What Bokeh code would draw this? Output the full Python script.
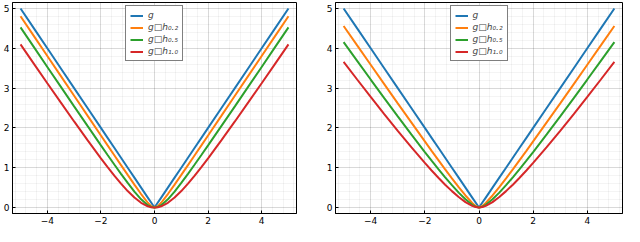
from bokeh.plotting import figure
from bokeh.layouts import row
from bokeh.models import FixedTicker, Range1d, Legend, LegendItem
from bokeh.embed import file_html
from bokeh.resources import INLINE
import numpy as np

# ---- data ----
x = [-5, -4.5, -4, -3.5, -3, -2.5, -2, -1.75, -1.5, -1.25, -1, -0.75, -0.5, -0.25, -0.125, 0,
     0.125, 0.25, 0.5, 0.75, 1, 1.25, 1.5, 1.75, 2, 2.5, 3, 3.5, 4, 4.5, 5]

g = [5, 4.5, 4, 3.5, 3, 2.5, 2, 1.75, 1.5, 1.25, 1, 0.75, 0.5, 0.25, 0.125, 0,
     0.125, 0.25, 0.5, 0.75, 1, 1.25, 1.5, 1.75, 2, 2.5, 3, 3.5, 4, 4.5, 5]

left_02 = [4.804, 4.304, 3.805, 3.306, 2.807, 2.308, 1.810, 1.561, 1.313, 1.066, 0.820, 0.576, 0.339, 0.120, 0.036, 0,
           0.036, 0.120, 0.339, 0.576, 0.820, 1.066, 1.313, 1.561, 1.810, 2.308, 2.807, 3.306, 3.805, 4.304, 4.804]
left_05 = [4.525, 4.028, 3.531, 3.036, 2.541, 2.050, 1.562, 1.320, 1.081, 0.846, 0.618, 0.401, 0.207, 0.059, 0.015, 0,
           0.015, 0.059, 0.207, 0.401, 0.618, 0.846, 1.081, 1.320, 1.562, 2.050, 2.541, 3.036, 3.531, 4.028, 4.525]
left_10 = [4.099, 3.610, 3.123, 2.640, 2.162, 1.693, 1.236, 1.016, 0.803, 0.601, 0.414, 0.250, 0.118, 0.031, 0.008, 0,
           0.008, 0.031, 0.118, 0.250, 0.414, 0.601, 0.803, 1.016, 1.236, 1.693, 2.162, 2.640, 3.123, 3.610, 4.099]

right_02 = [4.560, 4.072, 3.586, 3.101, 2.617, 2.137, 1.660, 1.424, 1.191, 0.960, 0.733, 0.512, 0.303, 0.115, 0.039, 0,
            0.039, 0.115, 0.303, 0.512, 0.733, 0.960, 1.191, 1.424, 1.660, 2.137, 2.617, 3.101, 3.586, 4.072, 4.560]
right_05 = [4.155, 3.683, 3.215, 2.750, 2.291, 1.838, 1.394, 1.177, 0.965, 0.759, 0.561, 0.374, 0.206, 0.068, 0.021, 0,
            0.021, 0.068, 0.206, 0.374, 0.561, 0.759, 0.965, 1.177, 1.394, 1.838, 2.291, 2.750, 3.215, 3.683, 4.155]
right_10 = [3.660, 3.216, 2.778, 2.347, 1.925, 1.515, 1.120, 0.931, 0.748, 0.574, 0.412, 0.263, 0.136, 0.041, 0.012, 0,
            0.012, 0.041, 0.136, 0.263, 0.412, 0.574, 0.748, 0.931, 1.120, 1.515, 1.925, 2.347, 2.778, 3.216, 3.660]

labels = ["g", "g\u25a1h\u2080.\u2082", "g\u25a1h\u2080.\u2085", "g\u25a1h\u2081.\u2080"]
colors = ["#1f77b4", "#ff7f0e", "#2ca02c", "#d62728"]

x_ticks = [-4, -2, 0, 2, 4]
x_tick_labels = ["\u22124", "\u22122", "0", "2", "4"]
y_ticks = [0, 1, 2, 3, 4, 5]
y_tick_labels = ["0", "1", "2", "3", "4", "5"]

FONT = "DejaVu Sans"


def make(series, width, min_left, min_right):
    p = figure(width=width, height=226, output_backend="svg", toolbar_location=None,
               x_range=Range1d(-5.3, 5.3), y_range=Range1d(-0.15, 5.15),
               min_border_left=min_left, min_border_right=min_right,
               min_border_top=2, min_border_bottom=0)
    p.background_fill_color = "white"
    p.border_fill_color = "white"
    p.outline_line_color = "black"
    p.outline_line_width = 1
    p.outline_line_alpha = 1

    xminor = [round(v, 2) for v in np.arange(-5.2, 5.21, 0.4)]
    yminor = [round(v, 2) for v in np.arange(0, 5.01, 0.2)]
    p.xaxis.ticker = FixedTicker(ticks=x_ticks, minor_ticks=xminor)
    p.yaxis.ticker = FixedTicker(ticks=y_ticks, minor_ticks=yminor)
    p.xaxis.major_label_overrides = {t: l for t, l in zip(x_ticks, x_tick_labels)}
    p.yaxis.major_label_overrides = {t: l for t, l in zip(y_ticks, y_tick_labels)}

    for ax in (p.xaxis, p.yaxis):
        ax.axis_line_color = "black"
        ax.axis_line_width = 1
        ax.major_tick_in = 3
        ax.major_tick_out = 0
        ax.major_tick_line_color = "black"
        ax.minor_tick_in = 0
        ax.minor_tick_out = 0
        ax.major_label_text_font = FONT
        ax.major_label_text_font_size = "9px"
        ax.major_label_text_color = "black"
        ax.major_label_standoff = 3

    for gr in (p.xgrid, p.ygrid):
        gr.grid_line_color = "black"
        gr.grid_line_alpha = 0.11
        gr.grid_line_width = 1
        gr.minor_grid_line_color = "black"
        gr.minor_grid_line_alpha = 0.045
        gr.minor_grid_line_width = 1

    items = []
    for ys, c, lab in zip(series, colors, labels):
        r = p.line(x, ys, line_color=c, line_width=2)
        items.append(LegendItem(label=lab, renderers=[r]))

    leg = Legend(items=items, location="top_center")
    leg.label_text_font = FONT
    leg.label_text_font_size = "9px"
    leg.label_text_font_style = "italic"
    leg.glyph_width = 13
    leg.glyph_height = 9
    leg.label_height = 9
    leg.spacing = 2
    leg.padding = 4
    leg.margin = 3
    leg.label_standoff = 5
    leg.border_line_color = "black"
    leg.border_line_width = 1
    leg.background_fill_color = "white"
    leg.background_fill_alpha = 1
    p.add_layout(leg)
    return p


p1 = make([g, left_02, left_05, left_10], 300, 8, 4)
p2 = make([g, right_02, right_05, right_10], 324, 35, 2)

layout = row(p1, p2)
open("out.html", "w").write(file_html(layout, INLINE))
